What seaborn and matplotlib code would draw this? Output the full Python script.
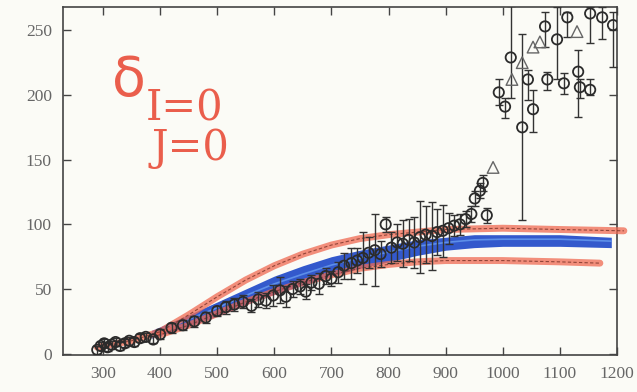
import numpy as np
import pandas as pd
import matplotlib
matplotlib.use("Agg")
import matplotlib.pyplot as plt
import seaborn as sns

# ---- data ----
x_main = [290, 296, 302, 308, 315, 322, 330, 338, 346, 355, 365, 375, 388, 400, 420,
          440, 460, 480, 500, 515, 530, 545, 560, 572, 585, 598, 610, 620, 632, 645,
          655, 665, 678, 690, 700, 712, 722, 735, 745, 755, 765, 776, 786, 795, 805,
          815, 825, 835, 845, 855, 865, 876, 885, 895, 905, 915, 925, 935, 945, 951,
          960, 965, 972]
y_main = [3, 6, 8, 5, 7, 9, 6, 8, 10, 9, 12, 13, 11, 15, 20,
          22, 25, 28, 33, 36, 38, 40, 37, 42, 41, 45, 49, 44, 50, 52,
          48, 55, 54, 60, 58, 63, 68, 70, 72, 74, 78, 80, 77, 100, 82,
          86, 85, 88, 86, 90, 92, 91, 94, 95, 97, 99, 100, 104, 108, 120,
          126, 132, 107]
e_main = [3, 3, 3, 3, 3, 3, 3, 3, 3, 3, 3, 3, 3, 4, 4,
          4, 4, 4, 4, 5, 5, 5, 5, 6, 6, 8, 10, 8, 6, 6,
          6, 6, 8, 6, 6, 8, 10, 12, 10, 20, 12, 28, 10, 6, 12,
          14, 18, 16, 20, 28, 22, 26, 18, 20, 12, 8, 8, 6, 6, 6,
          6, 6, 6]

x_high = [993, 1004, 1014, 1034, 1044, 1053, 1074, 1078, 1095, 1107, 1113, 1132, 1135,
          1153, 1153, 1174, 1193]
y_high = [202, 191, 229, 175, 212, 189, 253, 212, 243, 209, 260, 218, 206,
          204, 263, 260, 254]
e_low_high = [10, 9, 31, 72, 16, 18, 16, 8, 31, 8, 15, 35, 8, 4, 23, 17, 32]
e_up_high = [10, 7, 40, 72, 7, 15, 11, 6, 25, 8, 4, 17, 6, 8, 5, 8, 10]

x_tri = [983, 1016, 1034, 1053, 1065, 1130]
y_tri = [144, 212, 225, 237, 241, 249]

# theory curves (hand-highlighted)
x_red_up = [290, 350, 400, 450, 500, 550, 600, 650, 700, 750, 800, 850, 900, 1000, 1100, 1212]
y_red_up = [5, 10, 17, 30, 44, 57, 68, 77, 84, 89, 92, 94, 96, 97, 96, 95]
x_red_lo = [395, 450, 500, 550, 600, 650, 700, 750, 800, 850, 900, 1000, 1100, 1170]
y_red_lo = [14, 22, 31, 40, 48, 55, 61, 66, 69, 71, 72, 72, 71, 70]
x_blue = [385, 450, 500, 550, 600, 650, 700, 750, 800, 850, 900, 950, 1000, 1100, 1190]
y_blue_top = [18, 30, 40, 50, 60, 68, 75, 80, 84, 88, 90, 92, 92, 92, 90]
y_blue_bot = [12, 21, 29, 38, 46, 53, 60, 66, 71, 76, 80, 82, 83, 83, 82]

x_ticks = [300, 400, 500, 600, 700, 800, 900, 1000, 1100, 1200]
y_ticks = [0, 50, 100, 150, 200, 250]

# ---- figure ----
sns.set_theme(style="ticks")
plt.rcParams["font.family"] = ["Liberation Serif", "DejaVu Serif"]

bg = "#fbfbf6"
fig = plt.figure(figsize=(6.37, 3.92), dpi=100, facecolor=bg)
ax = fig.add_axes([63/637, 1 - 355/392, (617-63)/637, (355-7)/392])
ax.set_facecolor(bg)

# blue band
ax.fill_between(x_blue, y_blue_bot, y_blue_top, color="#1d47c8", alpha=0.9, lw=0, zorder=2)
ax.plot(x_blue, [(a+b)/2 + 1 for a, b in zip(y_blue_top, y_blue_bot)],
        color="#5d8fe8", lw=1.2, zorder=2)

# red highlighted curves
df_up = pd.DataFrame({"x": x_red_up, "y": y_red_up})
df_lo = pd.DataFrame({"x": x_red_lo, "y": y_red_lo})
for d in (df_up, df_lo):
    sns.lineplot(data=d, x="x", y="y", ax=ax, color="#ef6a52", lw=5, alpha=0.75,
                 zorder=3, clip_on=False)
    sns.lineplot(data=d, x="x", y="y", ax=ax, color="#7a3328", lw=0.8, ls=(0, (3, 2)),
                 alpha=0.8, zorder=4, clip_on=False)

# data points with error bars
ax.errorbar(x_main, y_main, yerr=e_main, fmt="none", ecolor="#333333", elinewidth=1.0,
            capsize=3, capthick=1.0, zorder=5)
ax.errorbar(x_high, y_high, yerr=[e_low_high, e_up_high], fmt="none", ecolor="#333333",
            elinewidth=1.0, capsize=3, capthick=1.0, zorder=5)
sns.scatterplot(x=x_main + x_high, y=y_main + y_high, ax=ax, marker="o", s=55,
                facecolor="none", edgecolor="#2b2b2b", linewidth=1.3, zorder=6)
sns.scatterplot(x=x_tri, y=y_tri, ax=ax, marker="^", s=70,
                facecolor="none", edgecolor="#666666", linewidth=1.0, zorder=6)

ax.set_xlim(230, 1200)
ax.set_ylim(-1, 268)
ax.set_xticks(x_ticks)
ax.set_yticks(y_ticks)
ax.set_xlabel("")
ax.set_ylabel("")
ax.tick_params(direction="in", top=True, right=True, length=6, width=1,
               labelsize=12.5, labelcolor="#666666", color="#444444", pad=8)
for s in ax.spines.values():
    s.set_color("#444444")
    s.set_linewidth(1.2)

# handwritten annotation
red = "#e8432e"
ax.text(0.088, 0.745, "δ", transform=ax.transAxes, color=red, fontsize=40,
        family="DejaVu Sans", va="baseline", alpha=0.85)
ax.text(0.150, 0.675, "I=0", transform=ax.transAxes, color=red, fontsize=30,
        family="DejaVu Serif", va="baseline", alpha=0.85)
ax.text(0.160, 0.56, "J=0", transform=ax.transAxes, color=red, fontsize=30,
        family="DejaVu Serif", va="baseline", alpha=0.85)

fig.savefig("out.png", dpi=100, facecolor=bg)
